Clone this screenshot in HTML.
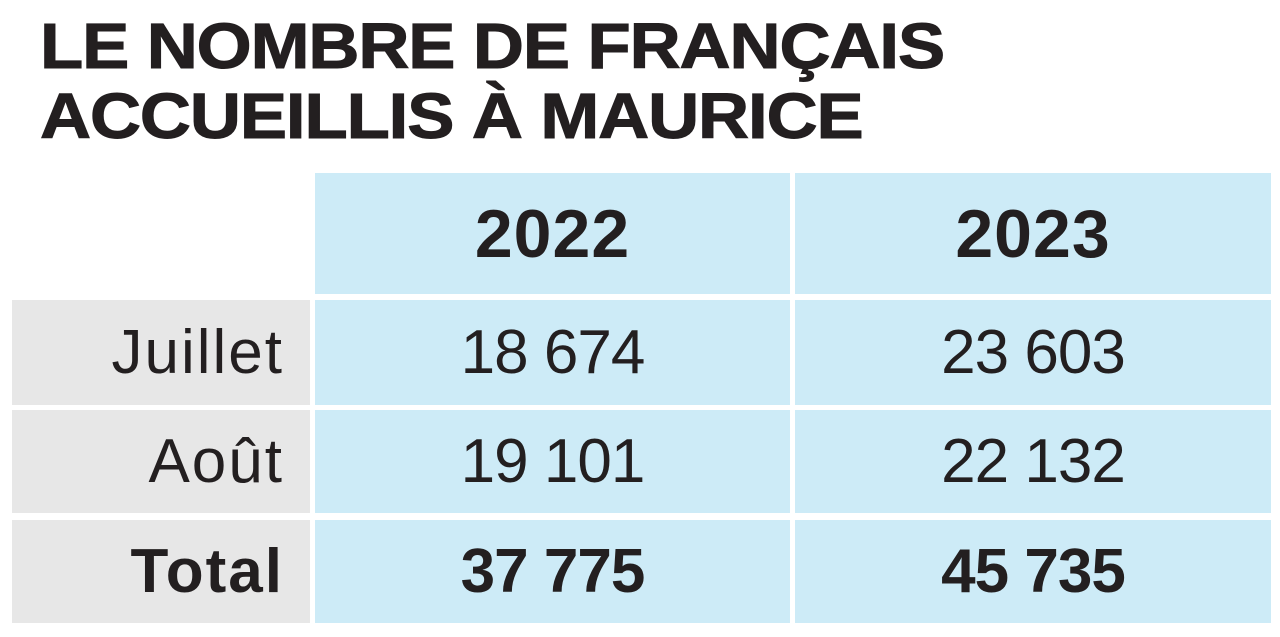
<!DOCTYPE html>
<html><head><meta charset="utf-8"><style>
body{margin:0;width:1280px;height:637px;background:#fff;position:relative;overflow:hidden;font-family:"Liberation Sans",sans-serif;color:#231f20}
.t{position:absolute;left:40px;font-weight:bold;font-size:64px;line-height:64px;white-space:nowrap;transform-origin:0 0;letter-spacing:-1px;-webkit-text-stroke:1px #231f20}
.c{position:absolute;display:flex;align-items:center;justify-content:center;font-size:62px;letter-spacing:-1px}
.b{background:#cdebf7}.g{background:#e7e7e7;justify-content:flex-end;padding-right:26px;box-sizing:border-box;letter-spacing:2px}
.bold{font-weight:bold}
.h{font-size:68px;letter-spacing:1px}
</style></head><body>
<div class="t" style="top:14px;transform:scaleX(1.105)">LE NOMBRE DE FRANÇAIS</div>
<div class="t" style="top:84px;transform:scaleX(1.105)">ACCUEILLIS À MAURICE</div>
<div class="c b bold h" style="left:315px;top:173px;width:475px;height:121px">2022</div>
<div class="c b bold h" style="left:795px;top:173px;width:476px;height:121px">2023</div>
<div class="c g" style="left:12px;top:300px;width:298px;height:105px">Juillet</div>
<div class="c b" style="left:315px;top:300px;width:475px;height:105px">18 674</div>
<div class="c b" style="left:795px;top:300px;width:476px;height:105px">23 603</div>
<div class="c g" style="left:12px;top:410px;width:298px;height:103px">Août</div>
<div class="c b" style="left:315px;top:410px;width:475px;height:103px">19 101</div>
<div class="c b" style="left:795px;top:410px;width:476px;height:103px">22 132</div>
<div class="c g bold" style="left:12px;top:520px;width:298px;height:103px">Total</div>
<div class="c b bold" style="left:315px;top:520px;width:475px;height:103px">37 775</div>
<div class="c b bold" style="left:795px;top:520px;width:476px;height:103px">45 735</div>
</body></html>
